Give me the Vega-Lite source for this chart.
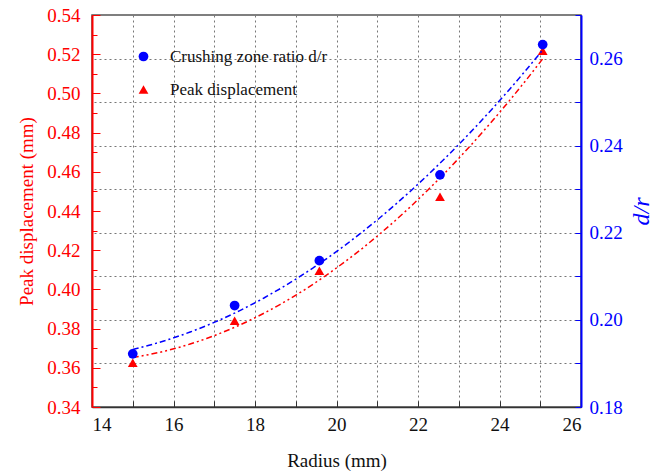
{
  "$schema": "https://vega.github.io/schema/vega-lite/v6.json",
  "autosize": {"type": "none"},
  "padding": {"left": 92, "top": 15, "right": 81, "bottom": 67},
  "width": 489,
  "height": 392,
  "config": {
    "view": {"stroke": "#555555", "strokeWidth": 1.5},
    "style": {
      "guide-label": {"font": "Times New Roman"},
      "guide-title": {"font": "Times New Roman"}
    },
    "axis": {
      "labelFont": "Times New Roman",
      "titleFont": "Times New Roman",
      "titleFontWeight": "normal",
      "labelFontSize": 19,
      "titleFontSize": 19
    },
    "legend": {
      "labelFont": "Times New Roman",
      "labelFontSize": 17
    }
  },
  "data": {
    "values": [
      {"radius": 15.0, "series": "Crushing zone ratio d/r", "value": 0.1922},
      {"radius": 17.5, "series": "Crushing zone ratio d/r", "value": 0.2033},
      {"radius": 19.58, "series": "Crushing zone ratio d/r", "value": 0.2136},
      {"radius": 22.54, "series": "Crushing zone ratio d/r", "value": 0.2333},
      {"radius": 25.06, "series": "Crushing zone ratio d/r", "value": 0.2632},
      {"radius": 15.0, "series": "Peak displacement", "value": 0.3626},
      {"radius": 17.5, "series": "Peak displacement", "value": 0.384},
      {"radius": 19.58, "series": "Peak displacement", "value": 0.4095},
      {"radius": 22.54, "series": "Peak displacement", "value": 0.4473},
      {"radius": 25.06, "series": "Peak displacement", "value": 0.5218}
    ]
  },
  "encoding": {
    "x": {
      "field": "radius",
      "type": "quantitative",
      "scale": {"domain": [14, 26], "nice": false, "zero": false},
      "axis": {
        "title": "Radius  (mm)",
        "titleFont": "Times New Roman",
        "labelFont": "Times New Roman",
        "titleColor": "#111111",
        "titlePadding": 17,
        "values": [14, 15, 16, 17, 18, 19, 20, 21, 22, 23, 24, 25, 26],
        "labelExpr": "datum.value % 2 == 0 ? datum.label : ''",
        "labelColor": "#111111",
        "tickSize": -6,
        "labelPadding": 14,
        "tickColor": "#333333",
        "domainColor": "#333333",
        "domainWidth": 1.5,
        "grid": true,
        "gridColor": "#777777",
        "gridDash": [2, 3],
        "gridOpacity": {"condition": {"test": "datum.value == 14 || datum.value == 26", "value": 0}, "value": 1}
      }
    }
  },
  "layer": [
    {
      "transform": [{"filter": "datum.series == 'Peak displacement'"}],
      "encoding": {
        "y": {
          "field": "value",
          "type": "quantitative",
          "scale": {"domain": [0.34, 0.54], "nice": false, "zero": false},
          "axis": {
            "orient": "left",
            "title": "Peak displacement  (mm)",
            "titleFont": "Times New Roman",
            "labelFont": "Times New Roman",
            "titleColor": "#ff0000",
            "titlePadding": 10,
            "values": [0.34, 0.35, 0.36, 0.37, 0.38, 0.39, 0.4, 0.41, 0.42, 0.43, 0.44, 0.45, 0.46, 0.47, 0.48, 0.49, 0.5, 0.51, 0.52, 0.53, 0.54],
            "labelExpr": "round(datum.value * 100) % 2 == 0 ? format(datum.value, '.2f') : ''",
            "labelColor": "#ff0000",
            "tickColor": "#ff0000",
            "tickSize": {"condition": {"test": "round(datum.value * 100) % 2 == 0", "value": -8}, "value": -5},
            "labelPadding": 20,
            "domainColor": "#ff0000",
            "domainWidth": 2,
            "grid": false
          }
        }
      },
      "layer": [
        {
          "transform": [{"regression": "value", "on": "radius", "method": "poly", "order": 2}],
          "mark": {"type": "line", "color": "#ff0000", "strokeWidth": 1.5, "strokeDash": [6, 3, 2, 3, 2, 3]},
          "encoding": {"x": {"field": "radius", "type": "quantitative"}, "y": {"field": "value", "type": "quantitative"}}
        },
        {
          "mark": {"type": "point", "filled": true, "opacity": 1, "size": 95},
          "encoding": {
            "color": {"field": "series", "type": "nominal", "scale": {"domain": ["Crushing zone ratio d/r", "Peak displacement"], "range": ["#0000ff", "#ff0000"]}, "legend": {"title": null, "orient": "none", "legendX": 43, "legendY": 33, "symbolSize": 95, "symbolOpacity": 1, "rowPadding": 15, "labelOffset": 18, "labelColor": "#111111", "labelFont": "Times New Roman"}},
            "shape": {"field": "series", "type": "nominal", "scale": {"domain": ["Crushing zone ratio d/r", "Peak displacement"], "range": ["circle", "triangle-up"]}, "legend": {"title": null, "orient": "none", "legendX": 43, "legendY": 33, "symbolSize": 95, "symbolOpacity": 1, "rowPadding": 15, "labelOffset": 18, "labelColor": "#111111", "labelFont": "Times New Roman"}}
          }
        }
      ]
    },
    {
      "transform": [{"filter": "datum.series == 'Crushing zone ratio d/r'"}],
      "encoding": {
        "y": {
          "field": "value",
          "type": "quantitative",
          "scale": {"domain": [0.18, 0.27], "nice": false, "zero": false},
          "axis": {
            "orient": "right",
            "title": "d/r",
            "titleFont": "Times New Roman",
            "labelFont": "Times New Roman",
            "titleFontStyle": "italic",
            "titleFontSize": 24,
            "titleAngle": 270,
            "titleColor": "#0000ff",
            "titlePadding": 31,
            "values": [0.18, 0.19, 0.2, 0.21, 0.22, 0.23, 0.24, 0.25, 0.26, 0.27],
            "labelExpr": "round(datum.value * 100) % 2 == 0 ? format(datum.value, '.2f') : ''",
            "labelColor": "#0000ff",
            "tickColor": "#0000ff",
            "tickSize": -6,
            "labelPadding": 14,
            "domainColor": "#0000ff",
            "domainWidth": 2,
            "grid": true,
            "gridColor": "#777777",
            "gridDash": [2, 3],
            "gridOpacity": {"condition": {"test": "datum.value < 0.185 || datum.value > 0.265", "value": 0}, "value": 1}
          }
        }
      },
      "layer": [
        {
          "transform": [{"regression": "value", "on": "radius", "method": "poly", "order": 2}],
          "mark": {"type": "line", "color": "#0000ff", "strokeWidth": 1.5, "strokeDash": [6, 3, 2, 3]},
          "encoding": {"x": {"field": "radius", "type": "quantitative"}, "y": {"field": "value", "type": "quantitative"}}
        },
        {
          "mark": {"type": "point", "filled": true, "opacity": 1, "size": 95},
          "encoding": {
            "color": {"field": "series", "type": "nominal", "scale": {"domain": ["Crushing zone ratio d/r", "Peak displacement"], "range": ["#0000ff", "#ff0000"]}},
            "shape": {"field": "series", "type": "nominal", "scale": {"domain": ["Crushing zone ratio d/r", "Peak displacement"], "range": ["circle", "triangle-up"]}}
          }
        }
      ]
    }
  ],
  "resolve": {"scale": {"y": "independent"}}
}
